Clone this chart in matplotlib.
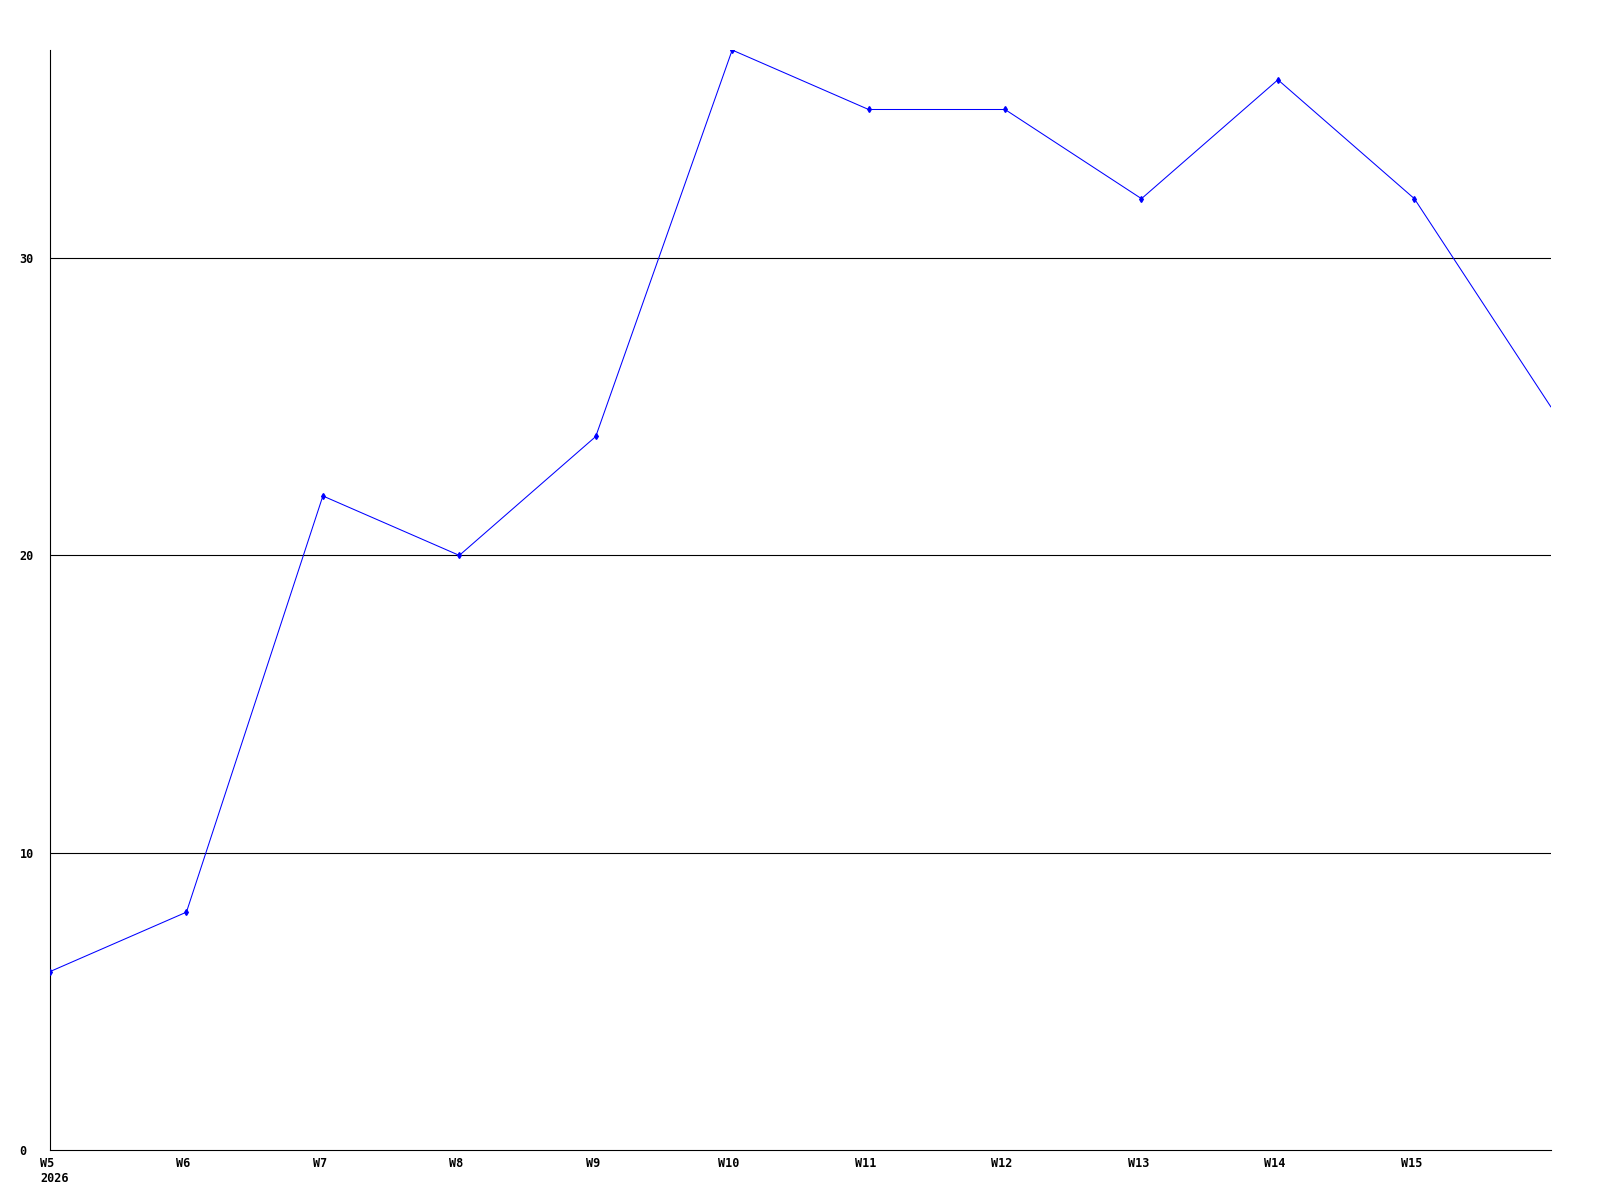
import numpy as np
import matplotlib
matplotlib.use("Agg")
import matplotlib.pyplot as plt
from matplotlib.transforms import ScaledTranslation

weeks = ["W5", "W6", "W7", "W8", "W9", "W10", "W11", "W12", "W13", "W14", "W15", "W16"]
values = [6, 8, 22, 20, 24, 37, 35, 35, 32, 36, 32, 25]
year_label = "2026"
y_ticks = [0, 10, 20, 30]

plt.rcParams['font.family'] = ['DejaVu Sans Mono']
plt.rcParams['font.weight'] = 'bold'
plt.rcParams['font.size'] = 8.5

fig = plt.figure(figsize=(16, 12), dpi=100)
ax = fig.add_axes([0.03125, 0.0417, 0.938, 0.9166])

x = np.arange(len(weeks))
ax.plot(x, values, color=(0, 0, 1), linewidth=0.75,
        marker='d', markersize=3, markevery=list(range(len(weeks) - 1)),
        zorder=3)

ax.set_xlim(0, len(weeks) - 1)
ax.set_ylim(0, 37)

for v in y_ticks[1:]:
    ax.axhline(v, color='black', linewidth=0.8, zorder=1)

ax.spines['top'].set_visible(False)
ax.spines['right'].set_visible(False)
ax.spines['left'].set_linewidth(0.8)
ax.spines['bottom'].set_linewidth(0.8)

ax.set_yticks(y_ticks)
ax.set_yticklabels([str(v) for v in y_ticks])
ax.tick_params(axis='y', length=0, pad=22)
for lab in ax.get_yticklabels():
    lab.set_horizontalalignment('left')

tick_x = x[:-1]
labels = list(weeks[:-1])
labels[0] = labels[0] + "\n" + year_label
ax.set_xticks(tick_x)
ax.set_xticklabels(labels)
ax.tick_params(axis='x', length=0, pad=5)

first = ax.get_xticklabels()[0]
first.set_horizontalalignment('left')
first.set_multialignment('left')
first.set_linespacing(1.25)
first.set_transform(first.get_transform() + ScaledTranslation(-10 / 100, 0, fig.dpi_scale_trans))
for lab in ax.get_xticklabels()[1:]:
    lab.set_transform(lab.get_transform() + ScaledTranslation(-3 / 100, 0, fig.dpi_scale_trans))

fig.savefig("out.png", dpi=100)
